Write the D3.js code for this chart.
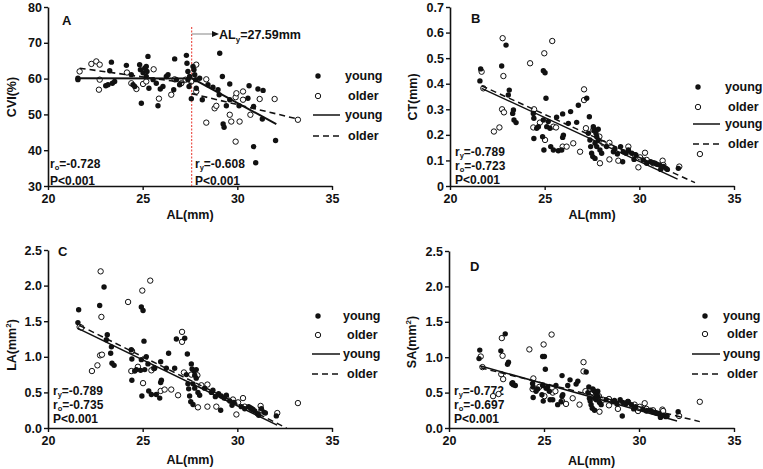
<!doctype html>
<meta charset="utf-8">
<style>
  body { margin: 0; background: #fff; }
  svg text { font-family: "Liberation Sans", Arial, sans-serif; font-weight: bold; fill: #111; }
</style>
<body>
<script src="https://d3js.org/d3.v7.min.js"></script>
<script>
// panel A: CVI(%) vs AL(mm), [AL, CVI]
const cviYoung = [[21.58,60.1],[21.58,59.7],[23.35,64.6],[23.26,62.2],[23.05,58.0],[23.17,58.3],[23.40,58.7],[23.52,59.2],
  [24.14,63.7],[24.40,61.1],[24.49,58.3],[24.58,57.8],[24.84,63.9],[24.88,62.5],[24.93,53.1],[25.02,61.6],[25.11,62.9],
  [25.19,63.4],[25.23,62.0],[25.28,66.2],[25.19,60.6],[25.33,57.3],[25.55,59.7],[25.72,58.7],[25.81,52.4],[25.93,57.1],
  [26.07,57.8],[26.25,60.6],[26.34,61.1],[26.69,65.5],[26.64,56.9],[26.78,59.7],[26.95,58.3],[27.31,66.5],[27.34,64.3],
  [27.39,62.0],[27.39,59.7],[27.45,57.8],[27.48,60.6],[27.57,54.4],[27.66,63.4],[27.71,62.5],[27.75,61.1],[27.80,59.7],
  [27.83,57.3],[28.01,60.1],[28.15,54.1],[28.45,58.3],[28.71,57.6],[28.98,56.9],[29.04,55.5],[29.07,67.1],[29.21,60.6],
  [29.25,47.3],[29.30,46.4],[29.42,52.4],[29.60,58.5],[29.60,54.1],[30.09,52.4],[30.56,54.5],[30.62,58.0],[30.86,41.0],
  [30.86,52.2],[30.97,36.5],[31.09,57.1],[31.36,56.7],[31.32,48.7],[32.02,42.7]];
const cviOlder = [[21.67,62.0],[22.29,64.1],[22.55,64.8],[22.73,63.9],[22.69,56.9],[22.73,59.7],[24.17,61.7],[24.40,58.7],
  [24.67,57.1],[25.02,58.5],[25.19,59.2],[25.58,62.6],[25.86,54.4],[26.51,55.5],[26.69,59.8],[27.04,58.7],[27.27,59.7],
  [27.83,63.9],[27.83,56.4],[27.57,59.2],[28.36,59.8],[28.36,47.7],[28.80,51.7],[28.89,52.4],[29.60,49.9],[29.68,48.0],
  [29.91,54.8],[29.91,42.4],[29.95,55.9],[30.12,48.0],[30.30,56.4],[30.30,54.1],[30.69,49.9],[31.18,54.3],[31.97,54.3],
  [33.20,48.5]];

// panels B-D share the axial length of each eye
const alYoung = [21.62,21.58,22.73,22.96,23.13,23.08,23.35,23.31,23.38,23.49,24.40,24.43,24.43,24.58,24.67,24.93,24.89,24.96,
  24.93,25.02,25.07,25.11,25.19,25.28,25.32,25.46,25.63,25.72,25.90,25.95,25.99,25.95,26.25,26.37,26.69,26.78,27.22,27.36,
  27.31,27.39,27.43,27.48,27.54,27.57,27.61,27.71,27.75,27.66,27.75,27.83,27.92,28.01,27.66,27.83,28.27,28.63,28.71,28.84,
  29.01,29.12,29.15,29.30,29.42,29.60,29.72,29.82,30.21,30.39,30.60,30.70,30.83,30.92,31.06,31.13,31.27,31.41,31.48,32.06];
const ctYoung = [.458,.411,.469,.551,.375,.356,.297,.284,.258,.248,.284,.265,.186,.226,.232,.258,.193,.141,
  .451,.443,.343,.232,.252,.226,.154,.141,.269,.138,.141,.190,.199,.282,.245,.291,.249,.316,.343,.271,
  .206,.180,.154,.128,.115,.232,.219,.206,.193,.167,.154,.180,.141,.128,.108,.222,.154,.134,.147,.125,
  .154,.095,.134,.128,.141,.128,.104,.121,.102,.089,.095,.091,.089,.085,.082,.065,.076,.069,.065,.069];
const laYoung = [1.66,1.48,1.72,1.98,1.31,1.24,1.14,1.05,0.91,0.88,1.10,0.97,0.67,0.80,0.82,0.96,0.81,0.45,
  1.70,1.65,1.22,0.82,1.00,0.90,0.52,0.47,0.84,0.47,0.42,0.64,0.67,0.93,0.84,1.05,0.84,1.25,1.26,1.04,
  0.75,0.62,0.55,0.45,0.37,0.90,0.83,0.80,0.74,0.62,0.56,0.70,0.50,0.46,0.33,0.82,0.56,0.50,0.53,0.44,
  0.48,0.25,0.45,0.42,0.46,0.38,0.32,0.36,0.30,0.27,0.30,0.28,0.26,0.24,0.20,0.18,0.27,0.22,0.21,0.17];
const saYoung = [1.10,0.98,1.09,1.33,0.93,0.90,0.64,0.63,0.61,0.60,0.63,0.58,0.43,0.52,0.55,0.60,0.47,0.38,
  1.01,1.01,0.83,0.56,0.58,0.52,0.40,0.40,0.60,0.33,0.37,0.45,0.47,0.74,0.60,0.68,0.62,0.66,0.79,0.58,
  0.50,0.42,0.38,0.33,0.28,0.55,0.53,0.50,0.48,0.42,0.40,0.45,0.36,0.33,0.25,0.52,0.40,0.37,0.39,0.34,
  0.40,0.17,0.36,0.34,0.37,0.33,0.27,0.30,0.27,0.24,0.25,0.23,0.22,0.21,0.20,0.15,0.18,0.16,0.17,0.23];

const alOlder = [21.67,21.76,22.78,22.82,22.32,22.61,22.75,22.85,24.23,24.44,24.40,24.75,24.98,25.40,25.02,25.46,25.60,
  25.95,26.16,26.51,26.87,27.08,27.08,27.18,27.57,27.89,27.92,28.10,28.42,28.42,28.89,29.42,29.77,29.95,30.04,30.30,
  30.39,30.74,31.23,31.27,32.11,33.20];
const ctOlder = [.447,.382,.578,.430,.213,.229,.300,.288,.480,.300,.229,.248,.519,.567,.180,.232,.229,
  .154,.154,.167,.134,.378,.336,.226,.219,.193,.089,.167,.104,.169,.099,.154,.121,.073,.112,.130,
  .102,.089,.099,.082,.076,.125];
const laOlder = [1.42,1.41,2.20,1.56,0.80,0.88,1.02,1.03,1.77,1.08,0.80,0.86,1.93,2.07,0.63,0.81,0.84,
  0.52,0.54,0.54,0.46,1.35,1.21,0.78,0.75,0.74,0.29,0.60,0.30,0.61,0.30,0.42,0.40,0.19,0.36,0.42,
  0.30,0.27,0.31,0.25,0.21,0.35];
const saOlder = [1.01,0.86,1.27,1.02,0.45,0.48,0.76,0.69,1.11,0.70,0.55,0.58,1.18,1.32,0.45,0.50,0.52,
  0.38,0.34,0.42,0.33,0.93,0.80,0.52,0.50,0.45,0.23,0.40,0.32,0.41,0.27,0.37,0.33,0.24,0.30,0.35,
  0.27,0.25,0.26,0.24,0.17,0.37];

// regression lines (end points)
const fitA = { young: [[[21.58,60.1],[27.59,60.0]],[[27.59,60.1],[32.06,47.3]]],
               older: [[[21.67,62.9],[27.59,58.6]],[[27.59,55.8],[33.2,48.7]]] };
const fitB = { young: [[[21.67,0.382],[32.02,0.027]]], older: [[[21.67,0.392],[32.94,0.013]]] };
const fitC = { young: [[[21.58,1.40],[32.1,0.04]]], older: [[[21.67,1.44],[32.6,0.0]]] };
const fitD = { young: [[[21.62,0.88],[32.0,0.10]]], older: [[[21.67,0.85],[33.2,0.09]]] };

const xTicks = [20, 25, 30, 35];
const alCut = 27.59;

const zip = (xs, ys) => xs.map((x, i) => [x, ys[i]]);

const panels = [
  { id: "A", left: 48, right: 332, top: 7, bottom: 186, yDom: [30, 80], yTicks: [30,40,50,60,70,80],
    fmt: d3.format("d"), title: "CVI(%)", sup: null, titleX: 12, titleY: 97,
    young: cviYoung, older: cviOlder, fit: fitA, letter: [62, 25],
    legend: { x: 318, ys: [76, 96, 115, 136], line: [313, 340], tx: [345, 348] }, xTitleY: 219 },
  { id: "B", left: 450, right: 734, top: 7, bottom: 186, yDom: [0, 0.7], yTicks: [0,.1,.2,.3,.4,.5,.6,.7],
    fmt: d => d === 0 ? "0" : d.toFixed(1), title: "CT(mm)", sup: null, titleX: 413, titleY: 97,
    young: zip(alYoung, ctYoung), older: zip(alOlder, ctOlder), fit: fitB, letter: [471, 23],
    legend: { x: 698, ys: [87, 107, 124, 144], line: [693, 720], tx: [725, 728] }, xTitleY: 219,
    stats: [["r", "y", "=-0.789"], ["r", "o", "=-0.723"], ["P<0.001"]], statsXY: [455, 156] },
  { id: "C", left: 48, right: 332, top: 250, bottom: 428, yDom: [0, 2.5], yTicks: [0,.5,1,1.5,2,2.5],
    fmt: d => d.toFixed(1), title: "LA(mm", sup: "2", titleX: 12, titleY: 345,
    young: zip(alYoung, laYoung), older: zip(alOlder, laOlder), fit: fitC, letter: [58, 256],
    legend: { x: 318, ys: [316, 335, 354, 374], line: [312, 340], tx: [343, 347] }, xTitleY: 464,
    stats: [["r", "y", "=-0.789"], ["r", "o", "=-0.735"], ["P<0.001"]], statsXY: [53, 395] },
  { id: "D", left: 449, right: 734, top: 251, bottom: 428, yDom: [0, 2.5], yTicks: [0,.5,1,1.5,2,2.5],
    fmt: d => d.toFixed(1), title: "SA(mm", sup: "2", titleX: 412, titleY: 342,
    young: zip(alYoung, saYoung), older: zip(alOlder, saOlder), fit: fitD, letter: [470, 271],
    legend: { x: 705, ys: [316, 334, 354, 374], line: [692, 720], tx: [723, 727] }, xTitleY: 465,
    stats: [["r", "y", "=-0.772"], ["r", "o", "=-0.697"], ["P<0.001"]], statsXY: [454, 395] }
];

const svg = d3.select("body").append("svg")
  .attr("width", 763).attr("height", 469);

function statText(g, parts, x, y) {
  const t = g.append("text").attr("x", x).attr("y", y).attr("font-size", 12);
  if (parts.length === 1) { t.text(parts[0]); return; }
  t.append("tspan").text(parts[0]);
  t.append("tspan").attr("font-size", 7.5).attr("dy", 2).text(parts[1]);
  t.append("tspan").attr("dy", -2).text(parts[2]);
}

panels.forEach(p => {
  const g = svg.append("g");
  const x = d3.scaleLinear().domain([20, 35]).range([p.left, p.right]);
  const y = d3.scaleLinear().domain(p.yDom).range([p.bottom, p.top]);

  // axes
  const ya = g.append("g").attr("transform", `translate(${p.left},0)`)
    .call(d3.axisLeft(y).tickValues(p.yTicks).tickFormat(p.fmt).tickSize(4).tickSizeOuter(0));
  const xa = g.append("g").attr("transform", `translate(0,${p.bottom})`)
    .call(d3.axisBottom(x).tickValues(xTicks).tickFormat(d3.format("d")).tickSize(4).tickSizeOuter(0));
  [ya, xa].forEach(a => {
    a.select(".domain").attr("stroke", "#111").attr("stroke-width", 1.6);
    a.selectAll(".tick line").attr("stroke", "#111").attr("stroke-width", 1.4);
    a.selectAll("text").attr("font-size", 12.5).attr("font-family", "Liberation Sans, Arial, sans-serif")
      .attr("font-weight", "bold").attr("fill", "#111");
  });
  ya.selectAll("text").attr("x", -6);
  xa.selectAll("text").attr("y", 8);

  // axis titles
  const yt = g.append("text").attr("font-size", 12.5).attr("text-anchor", "middle")
    .attr("transform", `translate(${p.titleX},${p.titleY}) rotate(-90)`).attr("dy", "0.35em");
  yt.append("tspan").text(p.title);
  if (p.sup) {
    yt.append("tspan").attr("font-size", 8).attr("dy", -5).text(p.sup);
    yt.append("tspan").attr("dy", 5).text(")");
  }
  g.append("text").attr("font-size", 12.5).attr("text-anchor", "middle")
    .attr("x", (p.left + p.right) / 2).attr("y", p.xTitleY).text("AL(mm)");

  g.append("text").attr("font-size", 13).attr("x", p.letter[0]).attr("y", p.letter[1]).text(p.id);

  // red cut-off line in panel A
  if (p.id === "A") {
    g.append("line").attr("x1", x(alCut)).attr("x2", x(alCut)).attr("y1", 27).attr("y2", p.bottom)
      .attr("stroke", "#e8332a").attr("stroke-width", 1).attr("stroke-dasharray", "2,1.5");
    g.append("line").attr("x1", x(alCut)).attr("x2", 213).attr("y1", 34).attr("y2", 34)
      .attr("stroke", "#999").attr("stroke-width", 1.2);
    g.append("path").attr("d", "M212,31 L219,34 L212,37 Z").attr("fill", "#111");
    const t = g.append("text").attr("font-size", 12.5).attr("x", 219).attr("y", 39);
    t.append("tspan").text("AL");
    t.append("tspan").attr("font-size", 8).attr("dy", 3).text("y");
    t.append("tspan").attr("dy", -3).text("=27.59mm");
    statText(g, ["r", "o", "=-0.728"], 50, 168);
    statText(g, ["P<0.001"], 50, 185);
    statText(g, ["r", "y", "=-0.608"], 195, 168);
    statText(g, ["P<0.001"], 195, 185);
  } else {
    p.stats.forEach((s, i) => statText(g, s, p.statsXY[0], p.statsXY[1] + i * 14));
  }

  // points
  g.append("g").selectAll("circle").data(p.older).join("circle")
    .attr("cx", d => x(d[0])).attr("cy", d => y(d[1])).attr("r", 2.7)
    .attr("fill", "#fff").attr("stroke", "#111").attr("stroke-width", 1);
  g.append("g").selectAll("circle").data(p.young).join("circle")
    .attr("cx", d => x(d[0])).attr("cy", d => y(d[1])).attr("r", 2.7)
    .attr("fill", "#111");

  // fits
  const line = d3.line().x(d => x(d[0])).y(d => y(d[1]));
  g.selectAll(".fy").data(p.fit.young).join("path").attr("d", line)
    .attr("fill", "none").attr("stroke", "#111").attr("stroke-width", p.id === "A" ? 2 : 1.5);
  g.selectAll(".fo").data(p.fit.older).join("path").attr("d", line)
    .attr("fill", "none").attr("stroke", "#111").attr("stroke-width", p.id === "A" ? 1.6 : 1.5)
    .attr("stroke-dasharray", "6,4");

  // legend
  const L = p.legend;
  g.append("circle").attr("cx", L.x).attr("cy", L.ys[0]).attr("r", 2.7).attr("fill", "#111");
  g.append("circle").attr("cx", L.x).attr("cy", L.ys[1]).attr("r", 2.7).attr("fill", "#fff")
    .attr("stroke", "#111").attr("stroke-width", 1);
  g.append("line").attr("x1", L.line[0]).attr("x2", L.line[1]).attr("y1", L.ys[2]).attr("y2", L.ys[2])
    .attr("stroke", "#111").attr("stroke-width", 1.5);
  g.append("line").attr("x1", L.line[0]).attr("x2", L.line[1]).attr("y1", L.ys[3]).attr("y2", L.ys[3])
    .attr("stroke", "#111").attr("stroke-width", 1.5).attr("stroke-dasharray", "6,4");
  const labels = ["young", "older", "young", "older"];
  labels.forEach((s, i) => g.append("text").attr("font-size", 12.5)
    .attr("x", L.tx[i % 2]).attr("y", L.ys[i]).attr("dy", "0.35em").text(s));
});
</script>
</body>
